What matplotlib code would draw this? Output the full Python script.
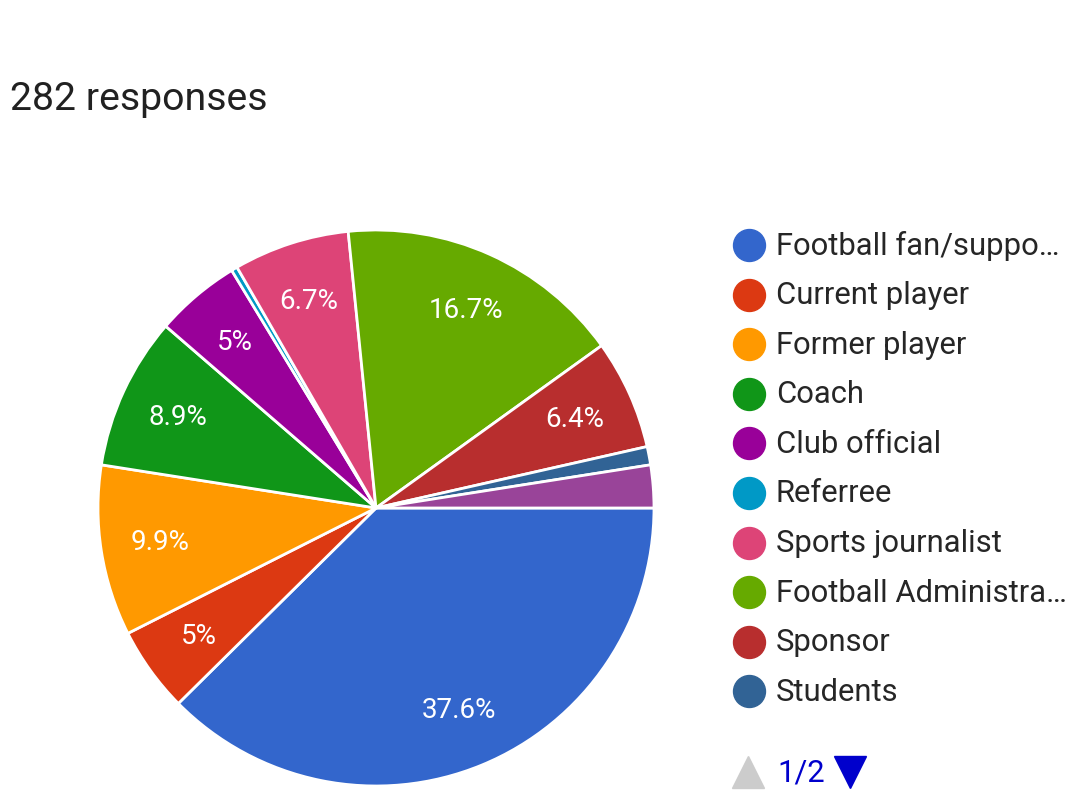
import matplotlib
matplotlib.use("Agg")
import matplotlib.pyplot as plt
from matplotlib.lines import Line2D

plt.rcParams['font.family'] = ['Roboto', 'DejaVu Sans']

title = "282 responses"
categories = ["Football fan/suppo…", "Current player", "Former player", "Coach",
              "Club official", "Referree", "Sports journalist", "Football Administra…",
              "Sponsor", "Students", "Other"]
counts = [106, 14, 28, 25, 14, 1, 19, 47, 18, 3, 7]
colors = ["#3366cc", "#dc3912", "#ff9900", "#109618", "#990099", "#0099c6",
          "#dd4477", "#66aa00", "#b82e2e", "#316395", "#994499"]
legend_shown = 10
page_label = "1/2"

fig = plt.figure(figsize=(10.8, 8.12), dpi=100)
fig.patch.set_facecolor("white")

ax = fig.add_axes([98/1080, (812-787)/812, 556/1080, 556/812])

def fmt(p):
    if p < 4.5:
        return ""
    s = f"{p:.1f}"
    if s.endswith(".0"):
        s = s[:-2]
    return s + "%"

wedges, texts, autotexts = ax.pie(
    counts, colors=colors, startangle=0, counterclock=False,
    autopct=fmt, pctdistance=0.785, radius=1,
    wedgeprops=dict(edgecolor="white", linewidth=2),
    textprops=dict(color="white", fontsize=20))
ax.set_xlim(-1.0, 1.0)
ax.set_ylim(-1.0, 1.0)
ax.axis("off")

fig.text(10/1080, 1 - 100/812, title, fontsize=28.3, color="#212121",
         ha="left", va="center")

# legend
y0 = 246
dy = 49.6
for i in range(legend_shown):
    y = 1 - (y0 + i*dy)/812
    fig.add_artist(Line2D([749/1080], [y], marker="o", markersize=23,
                          color=colors[i], linestyle="none",
                          transform=fig.transFigure))
    fig.text(776/1080, y, categories[i], fontsize=22.3, color="#262626",
             ha="left", va="center")

yp = 1 - 773/812
fig.add_artist(Line2D([748/1080], [yp], marker="^", markersize=23,
                      color="#cccccc", linestyle="none", transform=fig.transFigure))
fig.text(777/1080, yp, page_label, fontsize=22.3, color="#0000cc",
         ha="left", va="center")
fig.add_artist(Line2D([850/1080], [yp], marker="v", markersize=23,
                      color="#0000cc", linestyle="none", transform=fig.transFigure))

fig.savefig("out.png", dpi=100, facecolor="white")
